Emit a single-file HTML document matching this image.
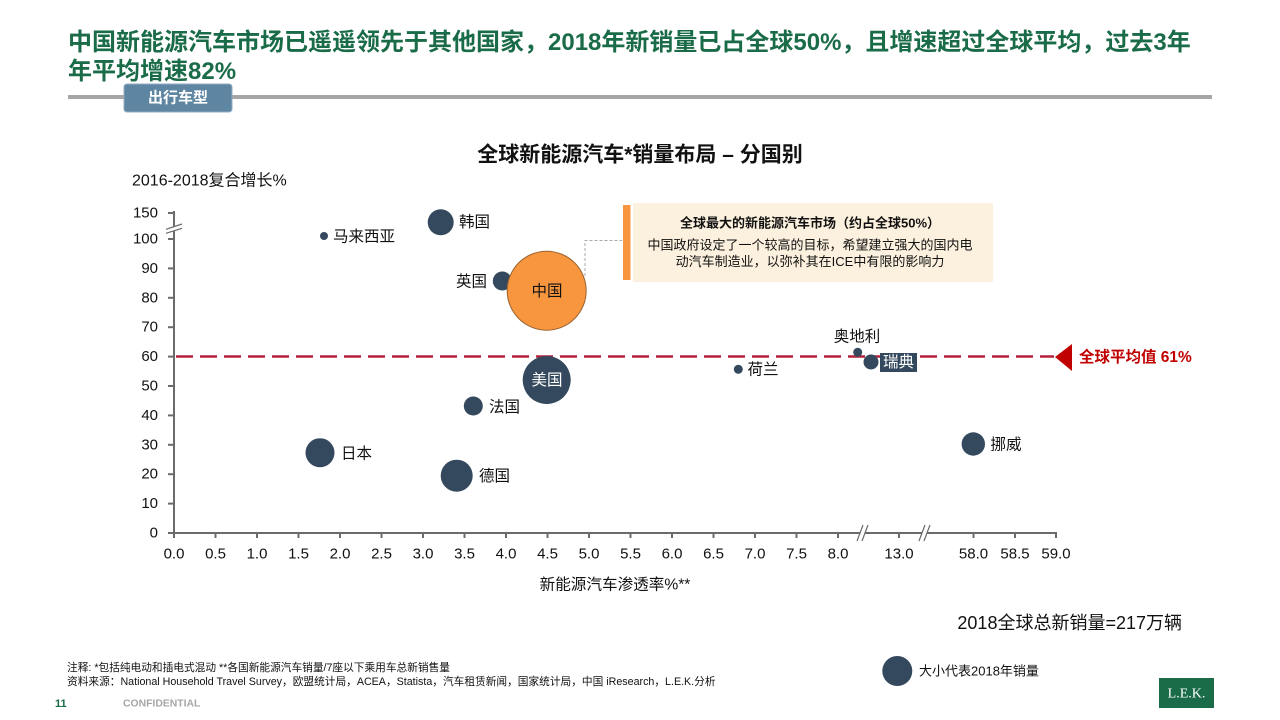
<!DOCTYPE html>
<html>
<head>
<meta charset="utf-8">
<style>
  html,body{margin:0;padding:0;background:#fff;}
  body{width:1280px;height:720px;overflow:hidden;}
  svg{display:block;font-family:"Liberation Sans","Noto Sans CJK SC",sans-serif;}
</style>
</head>
<body>
<svg width="1280" height="720" viewBox="0 0 1280 720" xmlns="http://www.w3.org/2000/svg">
  <!-- Title -->
  <g font-weight="bold" font-size="24" fill="#1a6b47">
    <text x="68" y="50">中国新能源汽车市场已遥遥领先于其他国家，2018年新销量已占全球50%，且增速超过全球平均，过去3年</text>
    <text x="68" y="79">年平均增速82%</text>
  </g>
  <!-- separator line and tag -->
  <rect x="68" y="95" width="1144" height="4" fill="#a6a6a6"/>
  <rect x="124" y="84" width="108" height="28" rx="3" fill="#5e85a2" stroke="#93adc2" stroke-width="1"/>
  <text x="178" y="98" font-size="15" font-weight="bold" fill="#fff" text-anchor="middle" dominant-baseline="central">出行车型</text>

  <!-- Chart title -->
  <text x="640" y="155" font-size="21" font-weight="bold" fill="#111" text-anchor="middle" dominant-baseline="central">全球新能源汽车*销量布局 – 分国别</text>
  <text x="132" y="181" font-size="16" fill="#111" dominant-baseline="central">2016-2018复合增长%</text>

  <!-- Y axis -->
  <g stroke="#6b6b6b" stroke-width="2">
    <line x1="174" y1="211" x2="174" y2="534"/>
    <line x1="168" y1="213" x2="174" y2="213"/>
    <line x1="168" y1="239" x2="174" y2="239"/>
    <line x1="168" y1="268.4" x2="174" y2="268.4"/>
    <line x1="168" y1="297.8" x2="174" y2="297.8"/>
    <line x1="168" y1="327.2" x2="174" y2="327.2"/>
    <line x1="168" y1="356.6" x2="174" y2="356.6"/>
    <line x1="168" y1="386" x2="174" y2="386"/>
    <line x1="168" y1="415.4" x2="174" y2="415.4"/>
    <line x1="168" y1="444.8" x2="174" y2="444.8"/>
    <line x1="168" y1="474.2" x2="174" y2="474.2"/>
    <line x1="168" y1="503.6" x2="174" y2="503.6"/>
    <line x1="168" y1="533" x2="174" y2="533"/>
  </g>
  <!-- y break -->
  <polygon points="166,229 182,224 182,228.5 166,233.5" fill="#fff"/>
  <g stroke="#6b6b6b" stroke-width="1.2">
    <line x1="166" y1="229.3" x2="182" y2="224"/>
    <line x1="166" y1="233.3" x2="182" y2="228.3"/>
  </g>
  <g font-size="15" fill="#111" text-anchor="end" dominant-baseline="central">
    <text x="158" y="213">150</text>
    <text x="158" y="239">100</text>
    <text x="158" y="268.4">90</text>
    <text x="158" y="297.8">80</text>
    <text x="158" y="327.2">70</text>
    <text x="158" y="356.6">60</text>
    <text x="158" y="386">50</text>
    <text x="158" y="415.4">40</text>
    <text x="158" y="444.8">30</text>
    <text x="158" y="474.2">20</text>
    <text x="158" y="503.6">10</text>
    <text x="158" y="533">0</text>
  </g>

  <!-- X axis -->
  <g stroke="#6b6b6b" stroke-width="2">
    <line x1="173" y1="533" x2="1057" y2="533"/>
    <line x1="174" y1="533" x2="174" y2="538"/>
    <line x1="215.5" y1="533" x2="215.5" y2="538"/>
    <line x1="257" y1="533" x2="257" y2="538"/>
    <line x1="298.5" y1="533" x2="298.5" y2="538"/>
    <line x1="340" y1="533" x2="340" y2="538"/>
    <line x1="381.5" y1="533" x2="381.5" y2="538"/>
    <line x1="423" y1="533" x2="423" y2="538"/>
    <line x1="464.5" y1="533" x2="464.5" y2="538"/>
    <line x1="506" y1="533" x2="506" y2="538"/>
    <line x1="547.5" y1="533" x2="547.5" y2="538"/>
    <line x1="589" y1="533" x2="589" y2="538"/>
    <line x1="630.5" y1="533" x2="630.5" y2="538"/>
    <line x1="672" y1="533" x2="672" y2="538"/>
    <line x1="713.5" y1="533" x2="713.5" y2="538"/>
    <line x1="755" y1="533" x2="755" y2="538"/>
    <line x1="796.5" y1="533" x2="796.5" y2="538"/>
    <line x1="838" y1="533" x2="838" y2="538"/>
    <line x1="899" y1="533" x2="899" y2="538"/>
    <line x1="973.5" y1="533" x2="973.5" y2="538"/>
    <line x1="1015" y1="533" x2="1015" y2="538"/>
    <line x1="1056" y1="533" x2="1056" y2="538"/>
  </g>
  <!-- x breaks -->
  <polygon points="857,541 863,525 868,525 862,541" fill="#fff"/>
  <polygon points="919,541 925,525 930,525 924,541" fill="#fff"/>
  <g stroke="#6b6b6b" stroke-width="1.2">
    <line x1="857" y1="541" x2="863" y2="525"/>
    <line x1="862" y1="541" x2="868" y2="525"/>
    <line x1="919" y1="541" x2="925" y2="525"/>
    <line x1="924" y1="541" x2="930" y2="525"/>
  </g>
  <g font-size="15" fill="#111" text-anchor="middle" dominant-baseline="central">
    <text x="174" y="554">0.0</text>
    <text x="215.5" y="554">0.5</text>
    <text x="257" y="554">1.0</text>
    <text x="298.5" y="554">1.5</text>
    <text x="340" y="554">2.0</text>
    <text x="381.5" y="554">2.5</text>
    <text x="423" y="554">3.0</text>
    <text x="464.5" y="554">3.5</text>
    <text x="506" y="554">4.0</text>
    <text x="547.5" y="554">4.5</text>
    <text x="589" y="554">5.0</text>
    <text x="630.5" y="554">5.5</text>
    <text x="672" y="554">6.0</text>
    <text x="713.5" y="554">6.5</text>
    <text x="755" y="554">7.0</text>
    <text x="796.5" y="554">7.5</text>
    <text x="838" y="554">8.0</text>
    <text x="899" y="554">13.0</text>
    <text x="973.5" y="554">58.0</text>
    <text x="1015" y="554">58.5</text>
    <text x="1056" y="554">59.0</text>
  </g>
  <text x="615" y="585" font-size="15.6" fill="#111" text-anchor="middle" dominant-baseline="central">新能源汽车渗透率%**</text>

  <!-- callout connector -->
  <polyline points="585,276 585,240.5 622,240.5" fill="none" stroke="#a9a9a9" stroke-width="1" stroke-dasharray="3 2"/>

  <!-- callout box -->
  <rect x="633" y="203" width="360" height="79" fill="#fcf1de"/>
  <rect x="623" y="205" width="7.5" height="75" fill="#f7963f"/>
  <text x="810" y="223" font-size="13" font-weight="bold" fill="#111" text-anchor="middle" dominant-baseline="central">全球最大的新能源汽车市场（约占全球50%）</text>
  <text x="810" y="245" font-size="13" fill="#111" text-anchor="middle" dominant-baseline="central">中国政府设定了一个较高的目标，希望建立强大的国内电</text>
  <text x="810" y="261.5" font-size="13" fill="#111" text-anchor="middle" dominant-baseline="central">动汽车制造业，以弥补其在ICE中有限的影响力</text>

  <!-- average dashed line -->
  <line x1="176" y1="356.5" x2="1054" y2="356.5" stroke="#b5203b" stroke-width="2.5" stroke-dasharray="17 7"/>
  <polygon points="1055,357 1072,344 1072,371" fill="#c00000"/>
  <text x="1079" y="357.5" font-size="15.5" font-weight="bold" fill="#c00000" dominant-baseline="central">全球平均值 61%</text>

  <!-- bubbles -->
  <g fill="#34495d">
    <circle cx="324" cy="236" r="4"/>
    <circle cx="440.7" cy="222.3" r="13"/>
    <circle cx="502.3" cy="281" r="9.5"/>
    <circle cx="546.7" cy="380" r="24"/>
    <circle cx="473.3" cy="406" r="9.5"/>
    <circle cx="320" cy="452.7" r="14.5"/>
    <circle cx="456.7" cy="475.7" r="16"/>
    <circle cx="738.3" cy="369.3" r="4.5"/>
    <circle cx="857.7" cy="352.3" r="4.5"/>
    <circle cx="871" cy="362" r="7.5"/>
    <circle cx="973.3" cy="444" r="11.7"/>
  </g>
  <circle cx="546.7" cy="290.7" r="39.5" fill="#f7963f" stroke="#9a6331" stroke-width="1"/>

  <!-- bubble labels -->
  <g font-size="15.5" fill="#111" dominant-baseline="central">
    <text x="333" y="237">马来西亚</text>
    <text x="459" y="222.5">韩国</text>
    <text x="487" y="282" text-anchor="end">英国</text>
    <text x="547" y="291.5" text-anchor="middle">中国</text>
    <text x="489" y="407.5">法国</text>
    <text x="341" y="454">日本</text>
    <text x="479" y="476.5">德国</text>
    <text x="747.5" y="370">荷兰</text>
    <text x="857" y="337" text-anchor="middle">奥地利</text>
    <text x="990.5" y="445">挪威</text>
  </g>
  <text x="547" y="380.5" font-size="15.5" fill="#fff" text-anchor="middle" dominant-baseline="central">美国</text>
  <rect x="880" y="353" width="37" height="19" fill="#34495d"/>
  <text x="898.5" y="362.5" font-size="15.5" fill="#fff" text-anchor="middle" dominant-baseline="central">瑞典</text>

  <!-- totals and legend -->
  <text x="1182" y="623" font-size="18" fill="#111" text-anchor="end" dominant-baseline="central">2018全球总新销量=217万辆</text>
  <circle cx="897.3" cy="671" r="15" fill="#34495d"/>
  <text x="919" y="671" font-size="13" fill="#111" dominant-baseline="central">大小代表2018年销量</text>

  <!-- footnotes -->
  <g font-size="10.7" fill="#111" dominant-baseline="central">
    <text x="67" y="668">注释: *包括纯电动和插电式混动 **各国新能源汽车销量/7座以下乘用车总新销售量</text>
    <text x="67" y="682">资料来源：National Household Travel Survey，欧盟统计局，ACEA，Statista，汽车租赁新闻，国家统计局，中国 iResearch，L.E.K.分析</text>
  </g>
  <text x="55" y="704" font-size="11" font-weight="bold" fill="#1a6b47" dominant-baseline="central">11</text>
  <text x="123" y="704" font-size="10.4" font-weight="bold" fill="#a6a6a6" dominant-baseline="central">CONFIDENTIAL</text>

  <!-- LEK logo -->
  <rect x="1159" y="678" width="55" height="30" fill="#1a6b47"/>
  <text x="1186.5" y="694" font-size="14" fill="#fff" text-anchor="middle" dominant-baseline="central" font-family="Liberation Serif, serif">L.E.K.</text>
</svg>
</body>
</html>
